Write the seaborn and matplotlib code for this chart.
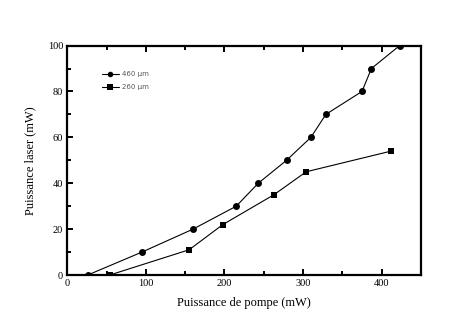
import matplotlib
matplotlib.use("Agg")
import matplotlib.pyplot as plt
import seaborn as sns
import pandas as pd
from matplotlib.ticker import MultipleLocator
from matplotlib.lines import Line2D

# Pump power (mW) vs laser output power (mW) for two fibre core diameters
pump_460 = [26, 95, 160, 215, 243, 279, 310, 329, 375, 387, 423]
laser_460 = [0, 10, 20, 30, 40, 50, 60, 70, 80, 90, 100]
pump_260 = [54, 155, 198, 263, 304, 412]
laser_260 = [0, 11, 22, 35, 45, 54]
series_labels = ["460 µm", "260 µm"]

df = pd.concat([
    pd.DataFrame({"pompe": pump_460, "laser": laser_460, "fibre": series_labels[0]}),
    pd.DataFrame({"pompe": pump_260, "laser": laser_260, "fibre": series_labels[1]}),
], ignore_index=True)

sns.set_style("ticks", {"axes.edgecolor": "black", "xtick.color": "black",
                        "ytick.color": "black", "text.color": "black",
                        "axes.labelcolor": "black"})
plt.rcParams["font.family"] = ["Liberation Serif", "DejaVu Serif"]

fig = plt.figure(figsize=(4.63, 3.25), dpi=100)
ax = fig.add_axes([0.1454, 0.1538, 0.7637, 0.706])

sns.lineplot(data=df, x="pompe", y="laser", hue="fibre", style="fibre",
             markers={series_labels[0]: "o", series_labels[1]: "s"},
             dashes=False, palette={series_labels[0]: "black", series_labels[1]: "black"},
             linewidth=0.8, markersize=5, markeredgewidth=0, sort=False,
             ax=ax, legend=False)

ax.set_xlim(0, 450)
ax.set_ylim(0, 100)
ax.xaxis.set_major_locator(MultipleLocator(100))
ax.xaxis.set_minor_locator(MultipleLocator(50))
ax.yaxis.set_major_locator(MultipleLocator(20))
ax.yaxis.set_minor_locator(MultipleLocator(10))
ax.tick_params(which="both", direction="in", top=True, right=False,
               width=1.4, labelsize=7.5, pad=3, colors="black")
ax.tick_params(which="major", length=4)
ax.tick_params(which="minor", length=3)
for s in ax.spines.values():
    s.set_linewidth(1.6)
    s.set_color("black")

ax.set_xlabel("Puissance de pompe (mW)", fontsize=9, labelpad=6, color="black")
ax.set_ylabel("Puissance laser (mW)", fontsize=9, labelpad=8, color="black")

# Legend drawn from the same series styles
handles = [
    Line2D([], [], color="black", lw=0.8, marker="o", markersize=4, markeredgewidth=0),
    Line2D([], [], color="black", lw=0.8, marker="s", markersize=4.5, markeredgewidth=0),
]
leg = ax.legend(handles, series_labels, loc="upper left", bbox_to_anchor=(0.08, 0.915),
                frameon=False, handlelength=2.4, handletextpad=0.5, labelspacing=1.0,
                prop={"family": "DejaVu Sans", "size": 5})
for t in leg.get_texts():
    t.set_color("#555555")

fig.savefig("out.png", dpi=100)
